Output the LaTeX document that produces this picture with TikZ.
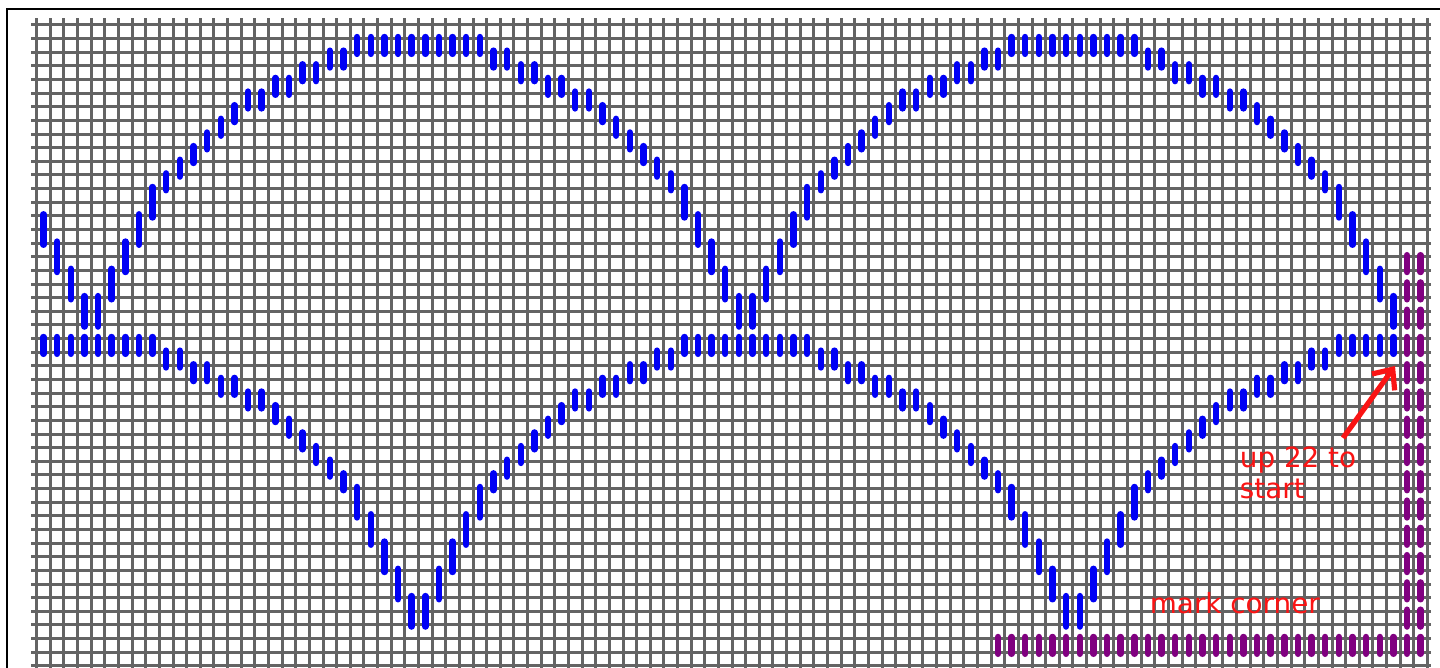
\documentclass[tikz,border=0pt]{standalone}
\usepackage{fontspec}
\newfontfamily\notefont{DejaVu Sans}
\usetikzlibrary{arrows.meta}
\definecolor{gridgray}{RGB}{100,100,100}
\definecolor{stblue}{RGB}{0,0,245}
\definecolor{stpurple}{RGB}{128,0,128}
\definecolor{notered}{RGB}{250,20,20}
\newcommand\cgX{36.7}
\newcommand\cgY{25}
\newcommand\cgS{13.635}
\newcommand\cgT{{14,16,18,20,20,18,16,14,12,11,10,9,8,7,6,5,5,4,4,3,3,2,2,1,1,1,1,1,1,1,1,1,1,2,2,3,3,4,4,5,5,6,7,8,9,10,11,12}}
\newcommand\drawstitch[4]{%
  \pgfmathsetmacro\stX{\cgX+(#1+0.5)*\cgS}%
  \pgfmathsetmacro\stA{\cgY+(#2-0.5)*\cgS+5.2}%
  \pgfmathsetmacro\stB{\cgY+(#3+0.5)*\cgS-5.2}%
  \draw[stitchline,#4] (\stX,\stA) -- (\stX,\stB);}
\begin{document}
\begin{tikzpicture}[x=0.5pt,y=-0.5pt,
  gridline/.style={line width=1.5pt, draw=gridgray},
  stitchline/.style={line width=3.2pt, line cap=round},
  notetext/.style={font=\notefont\fontsize{13.9}{15.5}\selectfont, text=notered, inner sep=0pt},
  notearrow/.style={draw=notered, line width=2.6pt, -{Straight Barb[length=8pt,width=14pt]}}]
\useasboundingbox (0,0) rectangle (1440,668);
\clip (0,0) rectangle (1440,668);
\fill[white] (0,0) rectangle (1440,668);
% frame
\draw[line width=1pt] (6.5,700) -- (6.5,9) -- (1460,9);
% canvas grid
\foreach \gi in {0,...,102}{
  \pgfmathsetmacro\gpos{\cgX+\gi*\cgS}
  \draw[gridline] (\gpos,18.3) -- (\gpos,700);
}
\foreach \gj in {0,...,47}{
  \pgfmathsetmacro\gpos{\cgY+\gj*\cgS}
  \draw[gridline] (31,\gpos) -- (1431,\gpos);
}
% blue wave rows
\foreach \cc in {0,...,99}{
  \pgfmathtruncatemacro\cm{mod(\cc,48)}
  \pgfmathtruncatemacro\cta{\cgT[\cm]}
  \pgfmathtruncatemacro\ctb{\cta+ifthenelse(\cta>11,2,1)}
  \drawstitch{\cc}{\cta}{\ctb}{stblue}
  \pgfmathtruncatemacro\cn{mod(\cc+24,48)}
  \pgfmathtruncatemacro\cua{\cgT[\cn]}
  \pgfmathtruncatemacro\cuc{\cua+22}
  \pgfmathtruncatemacro\cub{\cua+ifthenelse(\cua>11,2,1)+22}
  \drawstitch{\cc}{\cuc}{\cub}{stblue}
}
% purple corner marks
\foreach \cc in {70,...,101}{\drawstitch{\cc}{45}{46}{stpurple}}
\foreach \cc in {100,101}{
  \foreach \ct in {17,19,...,43}{\drawstitch{\cc}{\ct}{\ct+1}{stpurple}}
}
% annotations
\node[notetext, anchor=base west] (upnote) at (1239.5,467) {up 22 to};
\node[notetext, anchor=base west] (startnote) at (1239.5,498) {start};
\node[notetext, anchor=base west] (marknote) at (1149.5,613) {mark corner};
\coordinate (arrowtail) at (1343,438);
\coordinate (arrowtip) at (1395,366);
\draw[notearrow] (arrowtail) -- (arrowtip);
\end{tikzpicture}
\end{document}
